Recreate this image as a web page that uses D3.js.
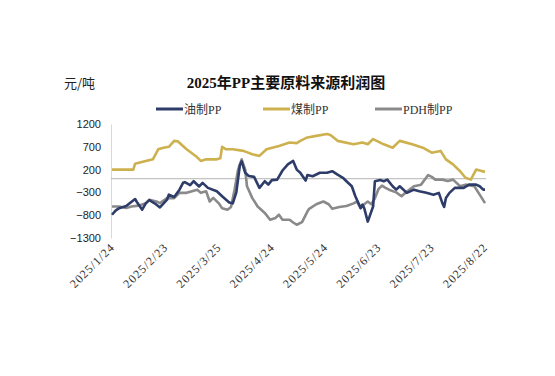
<!DOCTYPE html>
<html><head><meta charset="utf-8">
<script src="https://cdn.jsdelivr.net/npm/d3@7/dist/d3.min.js"></script>
<style>
html,body{margin:0;padding:0;background:#fff;}
svg{display:block;}
</style></head>
<body>
<svg id="chart" width="555" height="376"></svg>
<script>
const chartTitle = "2025年PP主要原料来源利润图";
const unitLabel = "元/吨";
const seriesNames = ["油制PP", "煤制PP", "PDH制PP"];
const seriesColors = ["#2e3c69", "#cdb14f", "#8a8a8a"];
const yTicks = [1200, 700, 200, -300, -800, -1300];
const xTickLabels = ["2025-01-24","2025-02-23","2025-03-25","2025-04-24","2025-05-24","2025-06-23","2025-07-23","2025-08-22"];

const oilPP = [["2025-01-24",-790],["2025-01-26",-700],["2025-01-28",-645],["2025-02-01",-600],["2025-02-06",-445],["2025-02-07",-510],["2025-02-10",-680],["2025-02-12",-540],["2025-02-14",-470],["2025-02-17",-540],["2025-02-20",-630],["2025-02-24",-460],["2025-02-25",-350],["2025-02-28",-400],["2025-03-03",-240],["2025-03-05",-90],["2025-03-06",-75],["2025-03-09",-140],["2025-03-11",-55],["2025-03-14",-170],["2025-03-16",-90],["2025-03-19",-200],["2025-03-24",-275],["2025-03-27",-385],["2025-03-31",-520],["2025-04-02",-540],["2025-04-04",-300],["2025-04-06",300],["2025-04-07",380],["2025-04-09",130],["2025-04-11",60],["2025-04-14",40],["2025-04-17",-200],["2025-04-20",-55],["2025-04-22",-130],["2025-04-24",-30],["2025-04-27",-20],["2025-04-30",180],["2025-05-03",315],["2025-05-06",390],["2025-05-08",200],["2025-05-10",130],["2025-05-13",-40],["2025-05-14",80],["2025-05-17",55],["2025-05-21",130],["2025-05-25",130],["2025-05-28",165],["2025-05-31",90],["2025-06-03",20],["2025-06-05",-55],["2025-06-08",-165],["2025-06-10",-385],["2025-06-13",-645],["2025-06-14",-570],["2025-06-15",-645],["2025-06-17",-940],["2025-06-18",-830],["2025-06-20",-610],["2025-06-21",-55],["2025-06-24",-30],["2025-06-26",-55],["2025-06-28",-20],["2025-07-01",-165],["2025-07-03",-240],["2025-07-05",-165],["2025-07-09",-310],["2025-07-13",-240],["2025-07-16",-275],["2025-07-20",-310],["2025-07-24",-350],["2025-07-27",-310],["2025-07-29",-535],["2025-07-30",-620],["2025-07-31",-425],["2025-08-02",-310],["2025-08-05",-200],["2025-08-10",-200],["2025-08-13",-130],["2025-08-17",-130],["2025-08-19",-165],["2025-08-21",-240],["2025-08-22",-240]];

const coalPP = [["2025-01-24",200],["2025-02-05",200],["2025-02-06",330],["2025-02-12",390],["2025-02-16",425],["2025-02-19",645],["2025-02-22",680],["2025-02-25",700],["2025-02-28",830],["2025-03-02",820],["2025-03-07",645],["2025-03-13",470],["2025-03-15",390],["2025-03-18",425],["2025-03-24",425],["2025-03-26",450],["2025-03-27",700],["2025-03-29",650],["2025-04-02",645],["2025-04-08",610],["2025-04-13",535],["2025-04-17",500],["2025-04-21",645],["2025-04-28",720],["2025-05-04",795],["2025-05-08",780],["2025-05-10",830],["2025-05-14",905],["2025-05-19",940],["2025-05-25",980],["2025-05-27",960],["2025-05-31",830],["2025-06-09",755],["2025-06-14",795],["2025-06-17",755],["2025-06-20",870],["2025-06-26",755],["2025-07-01",680],["2025-07-05",830],["2025-07-12",755],["2025-07-18",680],["2025-07-23",570],["2025-07-28",610],["2025-07-31",425],["2025-08-04",315],["2025-08-08",165],["2025-08-11",20],["2025-08-14",-20],["2025-08-17",200],["2025-08-19",180],["2025-08-22",150]];

const pdhPP = [["2025-01-24",-610],["2025-01-28",-610],["2025-02-01",-640],["2025-02-04",-610],["2025-02-08",-590],["2025-02-12",-540],["2025-02-14",-460],["2025-02-18",-500],["2025-02-20",-535],["2025-02-24",-425],["2025-02-28",-425],["2025-03-03",-310],["2025-03-07",-310],["2025-03-10",-275],["2025-03-13",-240],["2025-03-15",-310],["2025-03-18",-275],["2025-03-20",-500],["2025-03-22",-420],["2025-03-25",-535],["2025-03-27",-645],["2025-03-30",-680],["2025-04-01",-620],["2025-04-03",-240],["2025-04-05",200],["2025-04-07",425],["2025-04-09",200],["2025-04-10",-165],["2025-04-13",-425],["2025-04-16",-610],["2025-04-18",-680],["2025-04-20",-750],["2025-04-23",-900],["2025-04-26",-860],["2025-04-28",-790],["2025-04-30",-900],["2025-05-04",-900],["2025-05-06",-960],["2025-05-08",-1010],["2025-05-11",-950],["2025-05-14",-720],["2025-05-15",-660],["2025-05-19",-560],["2025-05-23",-500],["2025-05-26",-560],["2025-05-28",-660],["2025-06-01",-620],["2025-06-05",-600],["2025-06-09",-540],["2025-06-11",-500],["2025-06-13",-645],["2025-06-15",-560],["2025-06-17",-500],["2025-06-19",-560],["2025-06-21",-430],["2025-06-23",-230],["2025-06-25",-150],["2025-06-27",-200],["2025-06-29",-240],["2025-07-03",-300],["2025-07-06",-385],["2025-07-09",-280],["2025-07-13",-165],["2025-07-17",-130],["2025-07-21",80],["2025-07-23",40],["2025-07-25",-20],["2025-07-29",-20],["2025-08-01",-50],["2025-08-04",-20],["2025-08-08",-165],["2025-08-11",-130],["2025-08-16",-165],["2025-08-19",-350],["2025-08-22",-535]];

const parse = d3.timeParse("%Y-%m-%d");
const fmt = d3.timeFormat("%Y/%-m/%-d");
const svg = d3.select("#chart");
const W = 555, H = 376;
svg.append("rect").attr("width", W).attr("height", H).attr("fill", "#fff");

const x = d3.scaleTime()
  .domain([parse("2025-01-24"), parse("2025-08-22")])
  .range([112, 485]);
const y = d3.scaleLinear().domain([-1300, 1200]).range([238, 124]);

// title & unit
svg.append("text").attr("x", 286).attr("y", 88).attr("text-anchor", "middle")
  .attr("font-family", "'Liberation Serif','Noto Sans CJK SC',serif")
  .attr("font-weight", "bold").attr("font-size", 15).attr("fill", "#111")
  .text(chartTitle);
svg.append("text").attr("x", 64).attr("y", 88)
  .attr("font-family", "'Noto Sans CJK SC',sans-serif")
  .attr("font-size", 13).attr("fill", "#222").text(unitLabel);

// legend
const legendX = [156, 263, 375];
seriesNames.forEach((n, i) => {
  const g = svg.append("g").attr("transform", `translate(${legendX[i]},109)`);
  g.append("line").attr("x1", 0).attr("x2", 27).attr("y1", 0).attr("y2", 0)
    .attr("stroke", seriesColors[i]).attr("stroke-width", 3);
  g.append("text").attr("x", 28).attr("y", 4.5)
    .attr("font-family", "'Liberation Serif','Noto Sans CJK SC',serif")
    .attr("font-size", 12).attr("fill", "#333").text(n);
});

// y axis
const yAxis = d3.axisLeft(y).tickValues(yTicks).tickFormat(d3.format("d")).tickSize(0).tickPadding(10);
const gy = svg.append("g").attr("transform", "translate(111,0)").call(yAxis);
gy.select(".domain").attr("stroke", "#d8d8d8");
gy.selectAll("text").attr("font-family", "'Liberation Sans',Arial,sans-serif")
  .attr("font-size", 11).attr("fill", "#222");

// x axis labels
const xAxis = d3.axisBottom(x).tickValues(xTickLabels.map(parse)).tickFormat(fmt).tickSize(0);
const gx = svg.append("g").attr("transform", "translate(0,238)").call(xAxis);
gx.select(".domain").remove();
gx.selectAll("text")
  .attr("font-family", "'Liberation Serif','DejaVu Serif',serif")
  .attr("font-size", 12).attr("letter-spacing", 1).attr("fill", "#333")
  .attr("text-anchor", "end").attr("dy", 0).attr("y", 0)
  .attr("transform", "translate(3,10) rotate(-45)");

// zero line
svg.append("line").attr("x1", 111).attr("x2", 486).attr("y1", y(0)).attr("y2", y(0))
  .attr("stroke", "#b4b4b4").attr("stroke-width", 1);

const line = d3.line().x(d => x(parse(d[0]))).y(d => y(d[1]));
const seriesData = [pdhPP, oilPP, coalPP];
const seriesIdx = [2, 0, 1];
seriesData.forEach((s, k) => {
  svg.append("path").datum(s).attr("d", line).attr("fill", "none")
    .attr("stroke", seriesColors[seriesIdx[k]]).attr("stroke-width", 2.6)
    .attr("stroke-linejoin", "round");
});
</script>
</body></html>
